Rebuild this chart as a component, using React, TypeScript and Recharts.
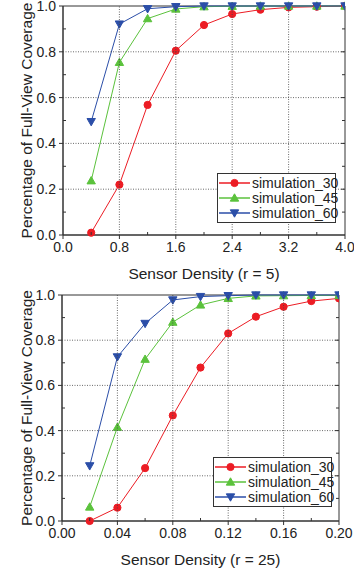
import { Line, LineChart, ReferenceArea, XAxis, YAxis } from "recharts";

const densityR5 = [0.4, 0.8, 1.2, 1.6, 2.0, 2.4, 2.8, 3.2, 3.6, 4.0];
const sim30R5 = [0.01, 0.22, 0.568, 0.805, 0.917, 0.965, 0.984, 0.994, 0.997, 1.0];
const sim45R5 = [0.237, 0.754, 0.945, 0.987, 0.997, 0.999, 1.0, 1.0, 1.0, 1.0];
const sim60R5 = [0.495, 0.921, 0.988, 0.997, 1.0, 1.0, 1.0, 1.0, 1.0, 1.0];

const densityR25 = [0.02, 0.04, 0.06, 0.08, 0.1, 0.12, 0.14, 0.16, 0.18, 0.2];
const sim30R25 = [0.0, 0.059, 0.234, 0.467, 0.679, 0.83, 0.904, 0.948, 0.973, 0.985];
const sim45R25 = [0.062, 0.415, 0.716, 0.88, 0.956, 0.985, 0.996, 0.997, 0.998, 0.998];
const sim60R25 = [0.244, 0.726, 0.874, 0.978, 0.993, 0.997, 1.0, 1.0, 1.0, 1.0];

// major ticks at even index, minor ticks in between
const xTicksR5 = [0, 0.4, 0.8, 1.2, 1.6, 2.0, 2.4, 2.8, 3.2, 3.6, 4.0];
const xTicksR25 = [0, 0.02, 0.04, 0.06, 0.08, 0.1, 0.12, 0.14, 0.16, 0.18, 0.2];
const yTickValues = [0, 0.1, 0.2, 0.3, 0.4, 0.5, 0.6, 0.7, 0.8, 0.9, 1.0];

const seriesNames = ["simulation_30", "simulation_45", "simulation_60"];
const COLORS = ["#ec1c24", "#5bc23c", "#2b4ea8"];
const FONT = "'Liberation Sans', Arial, sans-serif";
const TXT = "#222";
const AX = "#333";
const TS = 4;
const TM = 3;
const gridLine = { stroke: "#444", strokeDasharray: "1 1.5", strokeWidth: 0.8 };

const marker = (kind: number, cx: number, cy: number, color: string, key?: string) => {
  if (kind === 0) return <circle key={key} cx={cx} cy={cy} r={3.6} fill={color} stroke={color} />;
  const s = 4.2;
  const pts =
    kind === 1
      ? `${cx},${cy - s} ${cx - s},${cy + s * 0.75} ${cx + s},${cy + s * 0.75}`
      : `${cx},${cy + s} ${cx - s},${cy - s * 0.75} ${cx + s},${cy - s * 0.75}`;
  return <polygon key={key} points={pts} fill={color} stroke={color} />;
};

const makeDot = (kind: number) => (p: any) =>
  marker(kind, p.cx, p.cy, COLORS[kind], `d${kind}-${p.index}`);

const LegendBox = ({ left, top }: { left: number; top: number }) => (
  <div
    style={{
      position: "absolute",
      left,
      top,
      border: "1px solid #333",
      background: "#fff",
      width: 119,
      padding: "1px 0",
      fontFamily: FONT,
      fontSize: 14,
      color: TXT,
      boxSizing: "border-box",
    }}
  >
    {seriesNames.map((n, i) => (
      <div key={n} style={{ display: "flex", alignItems: "center", height: 15.3, whiteSpace: "nowrap" }}>
        <svg width={32} height={12} style={{ marginLeft: 1, flexShrink: 0 }}>
          <line x1={0} y1={6} x2={31} y2={6} stroke={COLORS[i]} strokeWidth={1.5} />
          {marker(i, 15.5, 6, COLORS[i])}
        </svg>
        <span style={{ marginLeft: 1 }}>{n}</span>
      </div>
    ))}
  </div>
);

const makeYTick = (plotW: number, count: number) => (props: any) => {
  const { x, y, index, payload } = props;
  const ax = x + TS + TM;
  const major = index % 2 === 0;
  const edge = index === 0 || index === count - 1;
  return (
    <g>
      {major && !edge && <line x1={ax} x2={ax + plotW} y1={y} y2={y} {...gridLine} />}
      {major ? (
        <line x1={ax - TS} x2={ax} y1={y} y2={y} stroke={AX} />
      ) : (
        <line x1={ax} x2={ax + 3} y1={y} y2={y} stroke={AX} />
      )}
      {!edge && <line x1={ax + plotW - (major ? 4 : 3)} x2={ax + plotW} y1={y} y2={y} stroke={AX} />}
      {major && (
        <text x={x} y={y} dy="0.355em" textAnchor="end" fill={TXT} fontSize={14} fontFamily={FONT}>
          {Number(payload.value).toFixed(1)}
        </text>
      )}
    </g>
  );
};

const makeXTick = (plotH: number, count: number, digits: number) => (props: any) => {
  const { x, y, index, payload } = props;
  const ay = y - TS - TM;
  const major = index % 2 === 0;
  const edge = index === 0 || index === count - 1;
  return (
    <g>
      {major && !edge && <line x1={x} x2={x} y1={ay} y2={ay - plotH} {...gridLine} />}
      {major ? (
        <line x1={x} x2={x} y1={ay} y2={ay + TS} stroke={AX} />
      ) : (
        <line x1={x} x2={x} y1={ay} y2={ay - 3} stroke={AX} />
      )}
      {major && (
        <text x={x} y={y} dy="0.71em" textAnchor="middle" fill={TXT} fontSize={14} fontFamily={FONT}>
          {Number(payload.value).toFixed(digits)}
        </text>
      )}
    </g>
  );
};

interface PanelProps {
  xs: number[];
  ys: number[][];
  xTicks: number[];
  xMax: number;
  digits: number;
  title: string;
  margin: { top: number; right: number; left: number; bottom: number };
  yWidth: number;
  legendPos: { left: number; top: number };
}

const X_HEIGHT = 51;

const Panel = ({ xs, ys, xTicks, xMax, digits, title, margin, yWidth, legendPos }: PanelProps) => {
  const data = xs.map((x, i) => ({ x, s0: ys[0][i], s1: ys[1][i], s2: ys[2][i] }));
  const labelStyle = { fill: TXT, fontSize: 15.5, fontFamily: FONT };
  const plotW = 354 - margin.left - margin.right - yWidth;
  const plotH = 286 - margin.top - margin.bottom - X_HEIGHT;
  return (
    <div style={{ position: "relative", width: 354, height: 286 }}>
      <LineChart width={354} height={286} data={data} margin={margin}>
        <XAxis
          dataKey="x"
          type="number"
          domain={[0, xMax]}
          ticks={xTicks}
          interval={0}
          tick={makeXTick(plotH, xTicks.length, digits)}
          tickSize={TS}
          tickMargin={TM}
          tickLine={{ stroke: "none" }}
          stroke={AX}
          height={X_HEIGHT}
          allowDataOverflow
          label={{ value: title, position: "insideBottom", offset: 7, ...labelStyle }}
        />
        <YAxis
          type="number"
          domain={[0, 1]}
          ticks={yTickValues}
          interval={0}
          tick={makeYTick(plotW, yTickValues.length)}
          tickSize={TS}
          tickMargin={TM}
          tickLine={{ stroke: "none" }}
          stroke={AX}
          width={yWidth}
          label={{
            value: "Percentage of Full-View Coverage",
            angle: -90,
            position: "center",
            dx: -5,
            ...labelStyle,
          }}
        />
        <ReferenceArea x1={0} x2={xMax} y1={0} y2={1} fill="none" stroke={AX} strokeWidth={1} />
        {[0, 1, 2].map((k) => (
          <Line
            key={k}
            dataKey={`s${k}`}
            stroke={COLORS[k]}
            strokeWidth={1}
            dot={makeDot(k)}
            isAnimationActive={false}
          />
        ))}
      </LineChart>
      <LegendBox left={legendPos.left} top={legendPos.top} />
    </div>
  );
};

export default function App() {
  return (
    <div style={{ position: "absolute", left: 0, top: 0, width: 354, height: 572, background: "#fff" }}>
      <Panel
        xs={densityR5}
        ys={[sim30R5, sim45R5, sim60R5]}
        xTicks={xTicksR5}
        xMax={4}
        digits={1}
        title="Sensor Density (r = 5)"
        margin={{ top: 6, right: 9, left: 0, bottom: 0 }}
        yWidth={63}
        legendPos={{ left: 217, top: 173 }}
      />
      <Panel
        xs={densityR25}
        ys={[sim30R25, sim45R25, sim60R25]}
        xTicks={xTicksR25}
        xMax={0.2}
        digits={2}
        title="Sensor Density (r = 25)"
        margin={{ top: 9, right: 15, left: 0, bottom: 0 }}
        yWidth={62}
        legendPos={{ left: 213, top: 171 }}
      />
    </div>
  );
}
